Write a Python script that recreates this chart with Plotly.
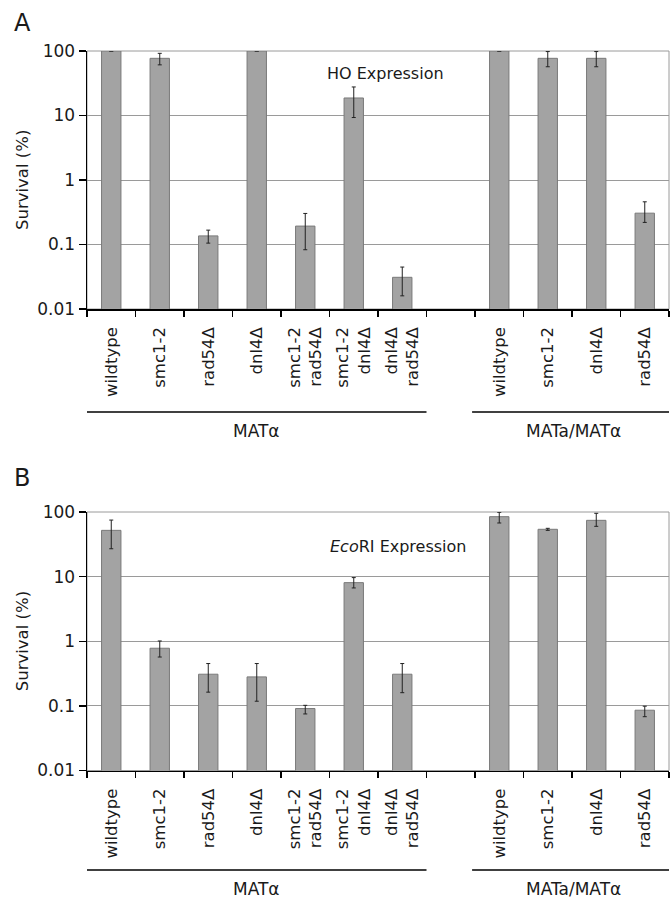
import plotly.graph_objects as go

# ---- data ----
keys = ["a_wt", "a_smc", "a_rad", "a_dnl", "a_smc_rad", "a_smc_dnl", "a_dnl_rad", "gap",
        "d_wt", "d_smc", "d_dnl", "d_rad"]
tick_labels = ["wildtype", "smc1-2", "rad54Δ", "dnl4Δ", "smc1-2<br>rad54Δ",
               "smc1-2<br>dnl4Δ", "dnl4Δ<br>rad54Δ", "",
               "wildtype", "smc1-2", "dnl4Δ", "rad54Δ"]
bar_keys = [k for k in keys if k != "gap"]

# Panel A: HO expression
ho_val = [100, 77, 0.136, 100, 0.193, 18.7, 0.031, 100, 77, 77, 0.306]
ho_hi = [100, 92, 0.167, 100, 0.303, 27.7, 0.0447, 100, 98, 98, 0.459]
ho_lo = [100, 61, 0.105, 100, 0.083, 9.3, 0.016, 100, 57, 57, 0.22]

# Panel B: EcoRI expression
eco_val = [52, 0.78, 0.309, 0.281, 0.091, 8.07, 0.309, 84.7, 54, 74.3, 0.0857]
eco_hi = [75, 1.01, 0.452, 0.452, 0.102, 9.66, 0.452, 98.8, 55.9, 95.4, 0.0989]
eco_lo = [27, 0.57, 0.163, 0.118, 0.075, 6.68, 0.16, 67.6, 52, 60, 0.068]

y_ticks = [0.01, 0.1, 1, 10, 100]
y_ticktext = ["0.01", "0.1", "1", "10", "100"]

groups = [("MATα", -0.5, 6.5), ("MATa/MATα", 7.5, 11.55)]

W, H = 671, 898
FONT = "DejaVu Sans"
BAR = "#a3a3a3"
BAR_LINE = "#7a7a7a"
GRID = "#9a9a9a"
TXT = "#1a1a1a"


def py(p):
    return 1 - p / H


fig = go.Figure()

panels = [
    dict(val=ho_val, hi=ho_hi, lo=ho_lo, xa="x", ya="y", top=51, bot=309,
         title="HO Expression", tx=385, ty=74, letter="A", ly=23,
         gline=412, gtext=431),
    dict(val=eco_val, hi=eco_hi, lo=eco_lo, xa="x2", ya="y2", top=512, bot=770.5,
         title="<i>Eco</i>RI Expression", tx=398, ty=546, letter="B", ly=478,
         gline=870, gtext=889),
]

annotations = []
shapes = []
for i, p in enumerate(panels):
    fig.add_trace(go.Bar(
        x=bar_keys, y=p["val"], xaxis=p["xa"], yaxis=p["ya"],
        marker=dict(color=BAR, line=dict(color=BAR_LINE, width=1)),
        width=0.4,
        error_y=dict(type="data", symmetric=False,
                     array=[h - v for h, v in zip(p["hi"], p["val"])],
                     arrayminus=[v - l for v, l in zip(p["val"], p["lo"])],
                     color="#222222", thickness=1, width=2),
        showlegend=False, hoverinfo="skip",
    ))
    suffix = "" if i == 0 else "2"
    ydom = [py(p["bot"]), py(p["top"])]
    fig.update_layout(**{
        "xaxis" + suffix: dict(
            domain=[87 / W, 669 / W], anchor="y" + suffix, automargin=False,
            type="category", categoryorder="array", categoryarray=keys,
            range=[-0.5, 11.5], tickmode="array", tickvals=keys, ticktext=tick_labels,
            tickangle=-90, tickson="boundaries", ticks="outside", ticklen=6,
            tickwidth=1.5, tickcolor="black", showline=True, linecolor="black",
            linewidth=1.5, showgrid=False, ticklabelstandoff=10,
            tickfont=dict(family=FONT, size=16.5, color=TXT),
        ),
        "yaxis" + suffix: dict(
            domain=ydom, anchor="x" + suffix, type="log", range=[-2, 2],
            automargin=False,
            tickmode="array", tickvals=y_ticks, ticktext=y_ticktext,
            ticks="outside", ticklen=7, tickwidth=1.5, tickcolor="black",
            showline=True, linecolor="black", linewidth=1.5,
            showgrid=True, gridcolor=GRID, gridwidth=1, zeroline=False,
            tickfont=dict(family=FONT, size=17, color=TXT),
        ),
    })
    # plot-area border (grey top/right)
    shapes.append(dict(type="rect", xref=p["xa"] + " domain", yref=p["ya"] + " domain",
                       x0=0, x1=1, y0=0, y1=1, line=dict(color=GRID, width=1),
                       layer="below"))
    annotations.append(dict(text=p["title"], x=p["tx"] / W, y=py(p["ty"]), xref="paper",
                            yref="paper", xanchor="center", yanchor="middle",
                            showarrow=False,
                            font=dict(family=FONT, size=16, color=TXT)))
    annotations.append(dict(text=p["letter"], x=12 / W, y=py(p["ly"]), xref="paper",
                            yref="paper", xanchor="left", yanchor="middle",
                            showarrow=False,
                            font=dict(family=FONT, size=24, color=TXT)))
    annotations.append(dict(text="Survival (%)", x=22 / W,
                            y=py((p["top"] + p["bot"]) / 2), xref="paper", yref="paper",
                            xanchor="center", yanchor="middle",
                            textangle=-90, showarrow=False,
                            font=dict(family=FONT, size=16.5, color=TXT)))
    for name, g0, g1 in groups:
        shapes.append(dict(type="line", xref=p["xa"], yref="paper", x0=g0 - 0.06, x1=g1,
                           y0=py(p["gline"]), y1=py(p["gline"]),
                           line=dict(color="black", width=1.5)))
        annotations.append(dict(text=name, x=(g0 + g1) / 2, y=py(p["gtext"]),
                                xref=p["xa"], yref="paper", xanchor="center",
                                yanchor="middle", showarrow=False,
                                font=dict(family=FONT, size=17, color=TXT)))

fig.update_layout(
    width=W, height=H, margin=dict(l=0, r=0, t=0, b=0, autoexpand=False),
    paper_bgcolor="white", plot_bgcolor="white",
    annotations=annotations, shapes=shapes, bargap=0.6, hovermode=False,
)

fig.write_html("out.html", config={"displayModeBar": False, "staticPlot": True},
               post_script="document.body.style.margin='0';"
                           "document.body.style.overflow='hidden';")
